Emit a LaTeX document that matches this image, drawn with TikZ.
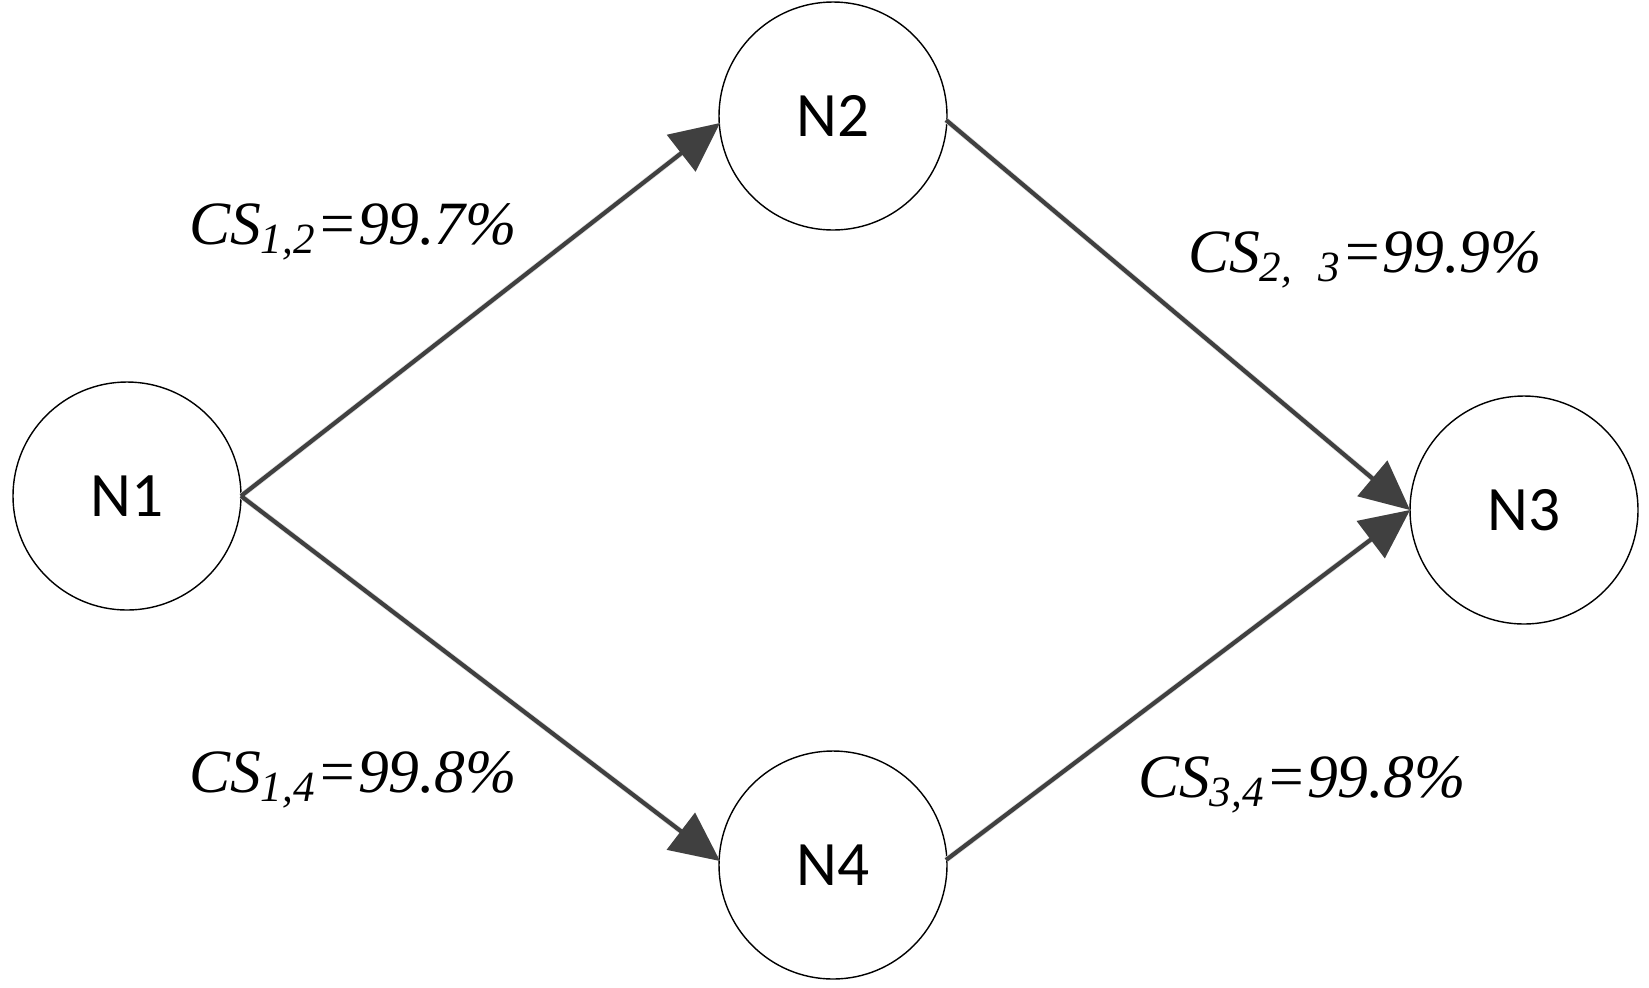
\documentclass[tikz,border=0pt]{standalone}
\usepackage{fontspec}
\setmainfont{Liberation Serif}
\newfontfamily\nfont{Carlito}
\usetikzlibrary{arrows.meta}
\definecolor{edgec}{RGB}{64,64,64}
\begin{document}
\begin{tikzpicture}[x=0.01cm,y=-0.01cm,
  nd/.style={circle,draw,thin,minimum size=228*0.01cm,inner sep=0pt,font=\nfont\fontsize{18}{20}\selectfont},
  ed/.style={draw=edgec,line width=1.2pt,-{Triangle[length=14pt,width=13pt]}},
  sh/.style={draw=black!12,line width=1.6pt,-{Triangle[length=14pt,width=13pt]},fill=black!12},
  lb/.style={font=\itshape\fontsize{17.5}{20}\selectfont}]
\useasboundingbox (0,0) rectangle (1649,987);
\node[nd] (n1) at (127,496) {N1};
\node[nd] (n2) at (833,116) {N2};
\node[nd] (n3) at (1524,510) {N3};
\node[nd] (n4) at (833,865) {N4};
\coordinate (a1) at (241,496);
\coordinate (a2) at (720,123);
\coordinate (a3) at (946,120);
\coordinate (a4) at (1410,510);
\coordinate (a5) at (946,860);
\coordinate (a6) at (720,861);
\begin{scope}[shift={(4,4)}]
\draw[sh] (a1) -- (a2);
\draw[sh] (a3) -- (a4);
\draw[sh] (a5) -- (a4);
\draw[sh] (a1) -- (a6);
\end{scope}
\draw[ed] (a1) -- (a2);
\draw[ed] (a3) -- (a4);
\draw[ed] (a5) -- (a4);
\draw[ed] (a1) -- (a6);
\node[lb] (l1) at (353,232) {CS\textsubscript{1,2}=99.7\%};
\node[lb] (l2) at (1365,260) {CS\textsubscript{2,\hspace{0.6em}3}=99.9\%};
\node[lb] (l3) at (353,780) {CS\textsubscript{1,4}=99.8\%};
\node[lb] (l4) at (1302,785) {CS\textsubscript{3,4}=99.8\%};
\end{tikzpicture}
\end{document}
